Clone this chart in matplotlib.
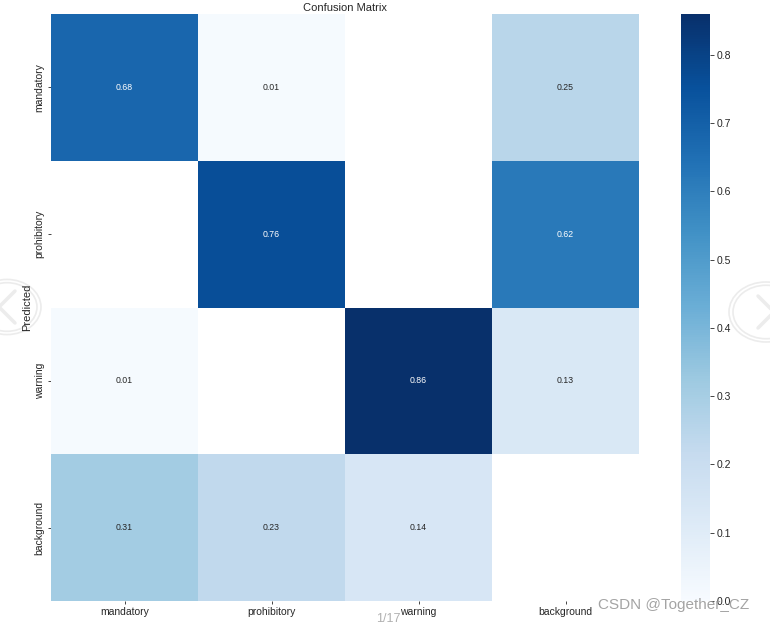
import numpy as np
import matplotlib
matplotlib.use("Agg")
import matplotlib.pyplot as plt
import seaborn as sns
from matplotlib.patches import Circle
from matplotlib.lines import Line2D

names = ["mandatory", "prohibitory", "warning", "background"]
row_mandatory = [0.68, 0.01, 0.00, 0.25]
row_prohibitory = [0.00, 0.76, 0.00, 0.62]
row_warning = [0.01, 0.00, 0.86, 0.13]
row_background = [0.31, 0.23, 0.14, 0.00]

matrix = np.array([row_mandatory, row_prohibitory, row_warning, row_background])
array = matrix.copy()
array[array < 0.005] = np.nan

sns.set_theme(style="white")
plt.rcParams['font.family'] = ['Liberation Sans', 'DejaVu Sans']

fig = plt.figure(figsize=(7.7, 6.24), dpi=100)
ax = fig.add_axes([51/770, 1-601/624, 588/770, 587/624])
cax = fig.add_axes([681/770, 1-601/624, 29/770, 587/624])

sns.heatmap(array, ax=ax, cbar_ax=cax, annot=True, annot_kws={"size": 6.3},
            cmap="Blues", fmt=".2f", square=False, vmin=0.0,
            xticklabels=names, yticklabels=names)
ax.set_facecolor((1, 1, 1))
ax.set_ylabel("Predicted", fontsize=8, labelpad=2)
ax.set_title("Confusion Matrix", fontsize=8, pad=2)
ax.tick_params(axis='both', labelsize=7.5, length=2.5, width=0.6, pad=2, bottom=True, left=True)
ax.tick_params(axis='x', rotation=0)
ax.tick_params(axis='y', rotation=90)
for lab in ax.get_yticklabels():
    lab.set_va('center')

cax.tick_params(labelsize=7.5, length=3, width=0.6, pad=2, right=True)
cax.yaxis.set_ticks([0.0, 0.1, 0.2, 0.3, 0.4, 0.5, 0.6, 0.7, 0.8])

# screenshot overlays
fig.text(598/770, 1-605/624, "CSDN @Together_CZ", fontsize=11, color="#9a9a9a",
         ha="left", va="center", alpha=0.9)
fig.text(388/770, 1-619/624, "1/17", fontsize=9, color="#b0b0b0", ha="center", va="center")

for cx, cy, r, d in [(7, 307, 34, -1), (766, 312, 37, 1)]:
    for rr in (r, r - 4):
        fig.patches.append(Circle((cx/770, 1-cy/624), rr/770, transform=fig.transFigure,
                                  fill=False, ec="#ececec", lw=1.2, zorder=-1))
    fig.lines.append(Line2D([(cx + d*(-8))/770, (cx + d*8)/770, (cx + d*(-8))/770],
                            [1-(cy-16)/624, 1-cy/624, 1-(cy+16)/624],
                            transform=fig.transFigure, color="#ececec", lw=2.5, zorder=-1))

fig.savefig("out.png", dpi=100)
